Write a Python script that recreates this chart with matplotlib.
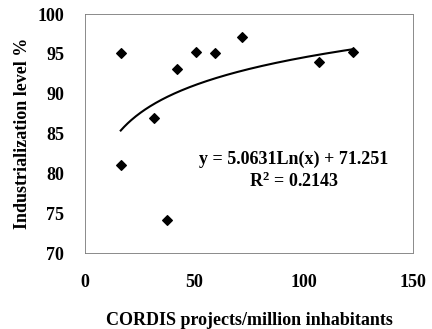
import numpy as np
import matplotlib.pyplot as plt

plt.rcParams['font.family'] = ['Liberation Serif', 'DejaVu Serif']
plt.rcParams['font.weight'] = 'bold'
plt.rcParams['mathtext.fontset'] = 'custom'
plt.rcParams['mathtext.rm'] = 'Liberation Serif:bold'
plt.rcParams['mathtext.default'] = 'rm'

# CORDIS projects per million inhabitants vs industrialization level
cordis = [16.5, 16.3, 31.6, 37.6, 42.2, 50.9, 59.2, 71.6, 106.9, 122.5]
industr = [95.1, 81.1, 87.0, 74.2, 93.1, 95.3, 95.1, 97.1, 94.0, 95.2]

# logarithmic trend line shown in the chart
coef_a = 5.0631
coef_b = 71.251
r2 = 0.2143

fig = plt.figure(figsize=(4.32, 3.29), dpi=100)
ax = fig.add_subplot(111)
fig.subplots_adjust(left=0.197, right=0.956, top=0.957, bottom=0.231)

ax.scatter(cordis, industr, marker='D', s=24, color='black', zorder=3)

xs = np.linspace(min(cordis), max(cordis), 200)
ax.plot(xs, coef_a*np.log(xs) + coef_b, color='black', lw=1.5)

ax.text(95.5, 81.8, 'y = %.4fLn(x) + %.3f' % (coef_a, coef_b),
        ha='center', va='center', fontsize=13, fontweight='bold')
ax.text(95.5, 79.0, 'R$^{2}$ = %.4f' % r2,
        ha='center', va='center', fontsize=13, fontweight='bold')

ax.set_xlim(0, 150)
ax.set_ylim(70, 100)
ax.set_xticks([0, 50, 100, 150])
ax.set_yticks([70, 75, 80, 85, 90, 95, 100])
ax.tick_params(length=0, labelsize=13, pad=15)
for lbl in ax.get_xticklabels() + ax.get_yticklabels():
    lbl.set_fontweight('bold')

for s in ax.spines.values():
    s.set_linestyle((0, (1, 1)))
    s.set_color('#777777')
    s.set_linewidth(0.6)

ax.set_xlabel('CORDIS projects/million inhabitants', fontsize=13,
              fontweight='bold', labelpad=15)
ax.set_ylabel('Industrialization level %', fontsize=13,
              fontweight='bold', labelpad=5)

fig.savefig('out.png', dpi=100)
